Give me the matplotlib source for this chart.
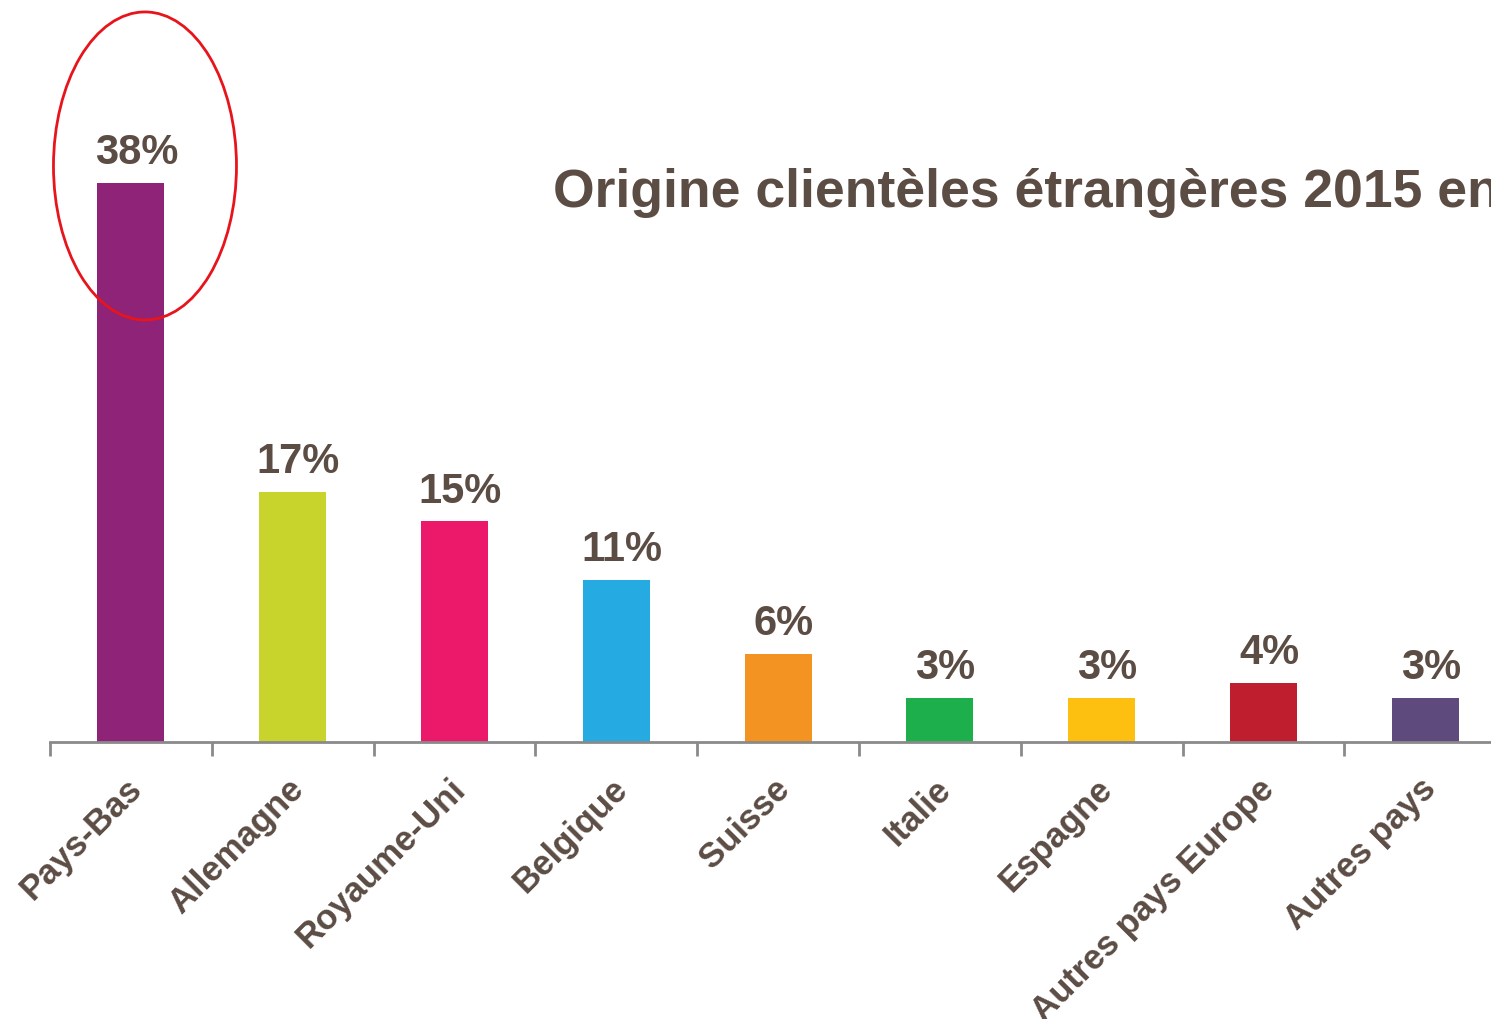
import matplotlib
matplotlib.use("Agg")
import matplotlib.pyplot as plt
from matplotlib.patches import Ellipse
from matplotlib.transforms import ScaledTranslation

# Share of foreign visitors by country of origin, 2015 (%)
countries = ["Pays-Bas", "Allemagne", "Royaume-Uni", "Belgique", "Suisse",
             "Italie", "Espagne", "Autres pays Europe", "Autres pays"]
shares = [38, 17, 15, 11, 6, 3, 3, 4, 3]
bar_colors = ["#8E2378", "#C8D42C", "#EC1869", "#25AAE1", "#F39322",
              "#1DAF4C", "#FDC010", "#BE1E2D", "#5E4A7C"]
title_text = "Origine clientèles étrangères 2015 en"

TEXT = "#5b4c44"
AXIS = "#8a8a8a"
FONT = "Liberation Sans"

W, H, DPI = 1491, 1019, 100
fig = plt.figure(figsize=(W / DPI, H / DPI), dpi=DPI)
fig.patch.set_facecolor("white")

# axes spans past the right edge so the last column is cut by the frame
left_px, base_px, slot_px = 50, 742, 161.8
px_per_unit = 14.71
ymax = 40
ax_w = slot_px * len(countries)
ax_h = px_per_unit * ymax
ax = fig.add_axes([left_px / W, (H - base_px) / H, ax_w / W, ax_h / H])
ax.set_xlim(-0.5, len(countries) - 0.5)
ax.set_ylim(0, ymax)

xs = list(range(len(countries)))
ax.bar(xs, shares, width=0.415, color=bar_colors, zorder=2)

for x, v in zip(xs, shares):
    ax.annotate(f"{v}%", (x, v), xytext=(4, 13.5), textcoords="offset points",
                ha="center", va="baseline", fontsize=30, fontweight="bold",
                color=TEXT, family=FONT, annotation_clip=False)

for side in ("top", "right", "left"):
    ax.spines[side].set_visible(False)
ax.spines["bottom"].set_color(AXIS)
ax.spines["bottom"].set_linewidth(2)
ax.set_yticks([])

# tick marks on the category boundaries, labels on the category centres
ax.set_xticks([i - 0.5 for i in range(len(countries))])
ax.set_xticklabels([])
ax.tick_params(axis="x", which="major", direction="out", length=10,
               width=2, color=AXIS)
ax.set_xticks(xs, minor=True)
ax.set_xticklabels(countries, minor=True)
ax.tick_params(axis="x", which="minor", length=0, pad=0)
shift = ScaledTranslation(6 / DPI, -42 / DPI, fig.dpi_scale_trans)
for lbl in ax.get_xticklabels(minor=True):
    lbl.set_rotation(45)
    lbl.set_ha("right")
    lbl.set_va("center")
    lbl.set_rotation_mode("anchor")
    lbl.set_fontsize(25)
    lbl.set_fontweight("bold")
    lbl.set_color(TEXT)
    lbl.set_family(FONT)
    lbl.set_transform(lbl.get_transform() + shift)

# highlight ring around the leading market
ring = Ellipse((0.087, 39.16), width=1.131, height=20.94, fill=False,
               edgecolor="#e8141b", linewidth=2, clip_on=False, zorder=5)
ax.add_patch(ring)

fig.text(553 / W, 1 - 207 / H, title_text, ha="left", va="baseline",
         fontsize=38.5, fontweight="bold", color=TEXT, family=FONT)

fig.savefig("out.png", dpi=DPI, facecolor="white")
